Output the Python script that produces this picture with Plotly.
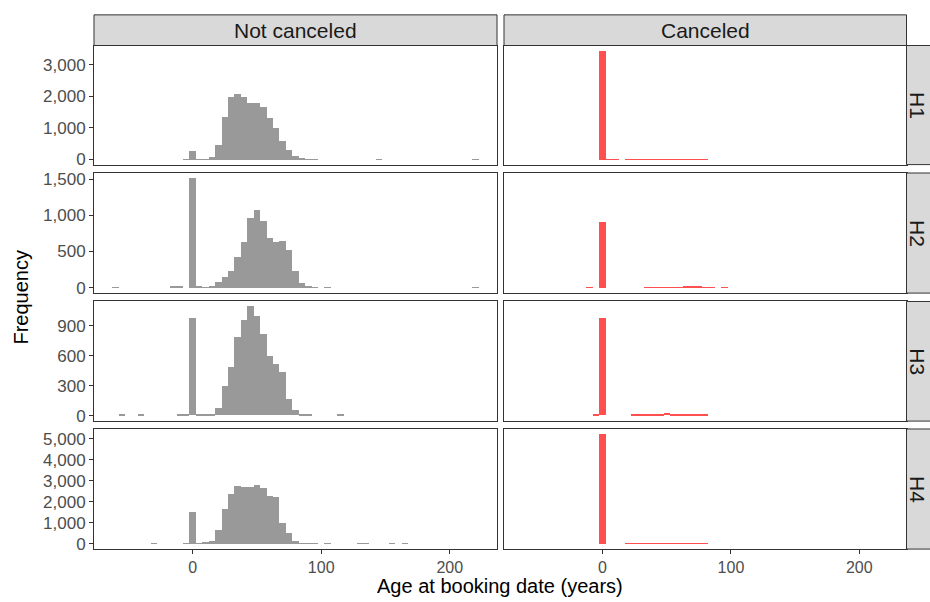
import plotly.graph_objects as go

# ---------------- data (bin centers, binwidth 5 years) ----------------
rows = ["H1", "H2", "H3", "H4"]
cols = ["Not canceled", "Canceled"]

h1_nc_x = [-5, 0, 5, 10, 15, 20, 25, 30, 35, 40, 45, 50, 55, 60, 65, 70, 75, 80, 85, 90, 95, 145, 220]
h1_nc_y = [15, 292, 20, 20, 73, 479, 1354, 2010, 2104, 2010, 1792, 1792, 1667, 1323, 1010, 594, 302, 104, 42, 20, 15, 15, 10]
h1_c_x = [0, 5, 10, 20, 25, 30, 35, 40, 45, 50, 55, 60, 65, 70, 75, 80]
h1_c_y = [3448, 20, 20, 12, 12, 12, 12, 12, 12, 12, 12, 12, 12, 12, 12, 12]

h2_nc_x = [-60, -15, -10, 0, 5, 10, 15, 20, 25, 30, 35, 40, 45, 50, 55, 60, 65, 70, 75, 80, 85, 90, 95, 105, 220]
h2_nc_y = [8, 10, 10, 1509, 15, 5, 15, 81, 149, 235, 420, 637, 962, 1070, 921, 691, 637, 650, 515, 235, 68, 14, 8, 8, 8]
h2_c_x = [-10, 0, 35, 40, 45, 50, 55, 60, 65, 70, 75, 80, 85, 95]
h2_c_y = [8, 908, 8, 8, 8, 8, 8, 8, 15, 12, 15, 8, 8, 8]

h3_nc_x = [-55, -40, -10, -5, 0, 5, 10, 15, 20, 25, 30, 35, 40, 45, 50, 55, 60, 65, 70, 75, 80, 85, 90, 115]
h3_nc_y = [5, 5, 5, 5, 973, 13, 7, 16, 73, 290, 488, 785, 953, 1091, 992, 814, 597, 518, 429, 162, 53, 16, 7, 5]
h3_c_x = [-5, 0, 25, 30, 35, 40, 45, 50, 55, 60, 65, 70, 75, 80]
h3_c_y = [5, 973, 5, 5, 5, 5, 16, 23, 16, 4, 4, 16, 4, 4]

h4_nc_x = [-30, -5, 0, 5, 10, 15, 20, 25, 30, 35, 40, 45, 50, 55, 60, 65, 70, 75, 80, 85, 90, 95, 105, 130, 135, 155, 165]
h4_nc_y = [15, 15, 1489, 5, 47, 125, 643, 1630, 2382, 2759, 2680, 2712, 2806, 2665, 2257, 2210, 972, 502, 125, 15, 15, 15, 15, 15, 15, 15, 15]
h4_c_x = [0, 20, 25, 30, 35, 40, 45, 50, 55, 60, 65, 70, 75, 80]
h4_c_y = [5204, 8, 8, 8, 8, 8, 8, 8, 8, 8, 8, 8, 8, 8]

panels = [
    (h1_nc_x, h1_nc_y), (h1_c_x, h1_c_y),
    (h2_nc_x, h2_nc_y), (h2_c_x, h2_c_y),
    (h3_nc_x, h3_nc_y), (h3_c_x, h3_c_y),
    (h4_nc_x, h4_nc_y), (h4_c_x, h4_c_y),
]
row_ticks = [
    [0, 1000, 2000, 3000],
    [0, 500, 1000, 1500],
    [0, 300, 600, 900],
    [0, 1000, 2000, 3000, 4000, 5000],
]
x_ticks = [0, 100, 200]
x_range = [-76.75, 236.75]
bin_width = 5
col_colors = ["#999999", "#ff4f4f"]

# ---------------- layout helpers ----------------
W, H = 930, 602
def xp(px):
    return px / W
def yp(px):
    return 1 - px / H

col_px = [(94, 497), (504, 906.5)]
row_px = [(43, 163.5), (172, 293.5), (302, 423), (431, 552.5)]
strip_top = (12, 43)

FONT = "Liberation Sans, Arial, sans-serif"
tick_font = dict(family=FONT, size=17, color="#4d4d4d")
xtick_font = dict(family=FONT, size=16, color="#4d4d4d")
line_col = "#333333"

fig = go.Figure()
layout = dict(
    width=W, height=H, autosize=False,
    margin=dict(l=0, r=0, t=0, b=0),
    paper_bgcolor="white", plot_bgcolor="white",
    showlegend=False, bargap=0,
)

# row maxima for ggplot-style 5% expansion (free y per row)
row_max = []
for r in range(4):
    m = max(max(panels[2 * r][1]), max(panels[2 * r + 1][1]))
    row_max.append(m)

for i, (xs, ys) in enumerate(panels):
    r, c = divmod(i, 2)
    sfx = "" if i == 0 else str(i + 1)
    fig.add_trace(go.Bar(
        x=xs, y=ys, width=bin_width,
        marker=dict(color=col_colors[c], line=dict(width=0)),
        xaxis="x" + sfx, yaxis="y" + sfx,
        hoverinfo="x+y",
    ))
    m = row_max[r]
    xa = dict(
        domain=[xp(col_px[c][0]), xp(col_px[c][1])],
        range=x_range, anchor="y" + sfx,
        showgrid=False, zeroline=False,
        showline=True, mirror=True, linecolor=line_col, linewidth=1,
    )
    if r == 3:
        xa.update(tickvals=x_ticks, ticks="outside", ticklen=4, tickcolor=line_col,
                  tickfont=xtick_font, showticklabels=True)
    else:
        xa.update(showticklabels=False, ticks="")
    ya = dict(
        domain=[yp(row_px[r][1]), yp(row_px[r][0])],
        range=[-0.05 * m, 1.05 * m], anchor="x" + sfx,
        showgrid=False, zeroline=False,
        showline=True, mirror=True, linecolor=line_col, linewidth=1,
    )
    if c == 0:
        ya.update(tickvals=row_ticks[r], tickformat=",", ticks="outside", ticklen=4,
                  tickcolor=line_col, tickfont=tick_font)
    else:
        ya.update(showticklabels=False, ticks="")
    layout["xaxis" + sfx] = xa
    layout["yaxis" + sfx] = ya

shapes = []
annotations = []
strip_font = dict(family=FONT, size=21, color="#1a1a1a")
# top strips
for c, name in enumerate(cols):
    shapes.append(dict(type="rect", xref="paper", yref="paper",
                       x0=xp(col_px[c][0]), x1=xp(col_px[c][1]),
                       y0=yp(strip_top[1]), y1=yp(strip_top[0]),
                       fillcolor="#d9d9d9", line=dict(color=line_col, width=1)))
    annotations.append(dict(text=name, xref="paper", yref="paper",
                            x=xp((col_px[c][0] + col_px[c][1]) / 2),
                            y=yp((strip_top[0] + strip_top[1]) / 2),
                            showarrow=False, font=strip_font,
                            xanchor="center", yanchor="middle"))
# right strips
for r, name in enumerate(rows):
    shapes.append(dict(type="rect", xref="paper", yref="paper",
                       x0=xp(906.5), x1=xp(936),
                       y0=yp(row_px[r][1]), y1=yp(row_px[r][0]),
                       fillcolor="#d9d9d9", line=dict(color=line_col, width=1)))
    annotations.append(dict(text=name, xref="paper", yref="paper",
                            x=xp(918), y=yp((row_px[r][0] + row_px[r][1]) / 2),
                            showarrow=False, font=strip_font, textangle=90,
                            xanchor="center", yanchor="middle"))

title_font = dict(family=FONT, size=20, color="black")
annotations.append(dict(text="Age at booking date (years)", xref="paper", yref="paper",
                        x=xp(500), y=yp(602), showarrow=False, font=title_font,
                        xanchor="center", yanchor="bottom", borderpad=0))
annotations.append(dict(text="Frequency", xref="paper", yref="paper",
                        x=xp(21), y=yp(298), showarrow=False, font=title_font,
                        textangle=-90, xanchor="center", yanchor="middle"))

layout["shapes"] = shapes
layout["annotations"] = annotations
fig.update_layout(**layout)

fig.write_html("out.html", config={"displayModeBar": False},
               post_script="document.body.style.margin='0';document.body.style.overflow='hidden';")
